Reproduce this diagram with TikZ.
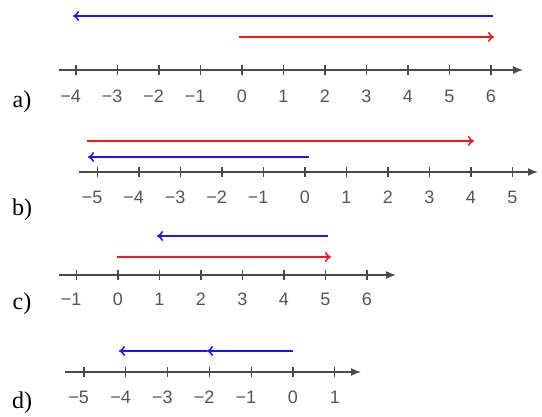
\documentclass[tikz,border=0pt]{standalone}
\usepackage{fontspec}
\setmainfont{Liberation Serif}
\newfontfamily\numfont{Liberation Sans}
\usetikzlibrary{arrows.meta}
\definecolor{axisgray}{HTML}{4A4A4A}
\definecolor{numgray}{HTML}{555555}
\definecolor{myblue}{HTML}{1A1AF0}
\definecolor{myred}{HTML}{F01A1A}
\tikzset{
  axisline/.style={draw=axisgray, line width=1.5pt, -{Latex[length=10pt,width=8pt]}},
  tickmark/.style={draw=axisgray, line width=1.2pt},
  ticklabel/.style={text=numgray, font=\numfont\fontsize{18}{18}\selectfont, inner sep=0pt},
  partlabel/.style={font=\fontsize{24}{24}\selectfont, inner sep=0pt},
  bluearrow/.style={draw=myblue, line width=1.6pt, -{To[length=6pt,width=10pt]}},
  redarrow/.style={draw=myred, line width=1.6pt, -{To[length=6pt,width=10pt]}},
}
\begin{document}
\begin{tikzpicture}[x=1pt,y=-1pt]
\useasboundingbox (0,0) rectangle (542,416);

% ---------- a) ----------
\coordinate (aS) at (59,70);
\coordinate (aE) at (523,70);
\draw[axisline] (aS) -- (aE);
\foreach \v in {-4,...,6}{
  \coordinate (a\v) at ({242+41.5*\v},70);
  \draw[tickmark] ([yshift=-5pt]a\v) -- ([yshift=5pt]a\v);
  \node[ticklabel] (la\v) at ({242+41.5*\v},96) {\ifnum\v<0 \makebox[0pt][r]{−}\the\numexpr-\v\relax\else\v\fi};
}
\coordinate (aB1) at (493,16);
\coordinate (aB2) at (73,16);
\coordinate (aR1) at (239,37);
\coordinate (aR2) at (494,37);
\draw[bluearrow] (aB1) -- (aB2);
\draw[redarrow] (aR1) -- (aR2);
\node[partlabel] (pa) at (22,102) {a)};

% ---------- b) ----------
\coordinate (bS) at (79,172);
\coordinate (bE) at (538,172);
\draw[axisline] (bS) -- (bE);
\foreach \v in {-5,...,5}{
  \coordinate (b\v) at ({305+41.5*\v},172);
  \draw[tickmark] ([yshift=-5pt]b\v) -- ([yshift=5pt]b\v);
  \node[ticklabel] (lb\v) at ({305+41.5*\v},197) {\ifnum\v<0 \makebox[0pt][r]{−}\the\numexpr-\v\relax\else\v\fi};
}
\coordinate (bR1) at (87,141);
\coordinate (bR2) at (474,141);
\coordinate (bB1) at (309,157);
\coordinate (bB2) at (88,157);
\draw[redarrow] (bR1) -- (bR2);
\draw[bluearrow] (bB1) -- (bB2);
\node[partlabel] (pb) at (22,210) {b)};

% ---------- c) ----------
\coordinate (cS) at (59,275);
\coordinate (cE) at (396,275);
\draw[axisline] (cS) -- (cE);
\foreach \v in {-1,...,6}{
  \coordinate (c\v) at ({118+41.5*\v},275);
  \draw[tickmark] ([yshift=-5pt]c\v) -- ([yshift=5pt]c\v);
  \node[ticklabel] (lc\v) at ({118+41.5*\v},299) {\ifnum\v<0 \makebox[0pt][r]{−}\the\numexpr-\v\relax\else\v\fi};
}
\coordinate (cB1) at (328,236);
\coordinate (cB2) at (157,236);
\coordinate (cR1) at (117,257);
\coordinate (cR2) at (331,257);
\draw[bluearrow] (cB1) -- (cB2);
\draw[redarrow] (cR1) -- (cR2);
\node[partlabel] (pc) at (22,304) {c)};

% ---------- d) ----------
\coordinate (dS) at (65,372);
\coordinate (dE) at (361,372);
\draw[axisline] (dS) -- (dE);
\foreach \v in {-5,...,1}{
  \coordinate (d\v) at ({293+41.8*\v},372);
  \draw[tickmark] ([yshift=-5pt]d\v) -- ([yshift=5pt]d\v);
  \node[ticklabel] (ld\v) at ({293+41.8*\v},397) {\ifnum\v<0 \makebox[0pt][r]{−}\the\numexpr-\v\relax\else\v\fi};
}
\coordinate (dB1) at (293,351);
\coordinate (dBm) at (207,351);
\coordinate (dB2) at (119,351);
\draw[bluearrow] (dB1) -- (dBm);
\draw[bluearrow] (dBm) -- (dB2);
\node[partlabel] (pd) at (22,403) {d)};
\end{tikzpicture}
\end{document}
